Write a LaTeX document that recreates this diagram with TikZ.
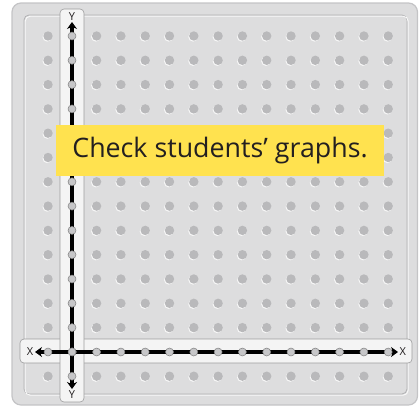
\documentclass[tikz,border=0pt]{standalone}
\usepackage{fontspec}
\setmainfont{Open Sans}
\usetikzlibrary{arrows.meta,positioning}
\definecolor{boardgray}{HTML}{DDDDDE}
\definecolor{rimgray}{HTML}{C4C4C6}
\definecolor{peggray}{HTML}{B9B9BB}
\definecolor{stripwhite}{HTML}{F4F4F4}
\definecolor{axpeggray}{HTML}{C6C6C8}
\definecolor{noteyellow}{HTML}{FFE24F}
\definecolor{notetext}{HTML}{231F20}
\tikzset{
  board/.style  = {draw=rimgray, fill=boardgray, rounded corners=9pt, line width=1.2pt},
  bevd/.style   = {draw=rimgray!90!black, rounded corners=5pt, line width=0.8pt},
  bevl/.style   = {draw=white!85!boardgray, rounded corners=5pt, line width=0.9pt},
  peg/.style    = {fill=peggray, draw=none},
  peghi/.style  = {fill=white!80!boardgray, draw=none},
  strip/.style  = {draw=rimgray!80!black, fill=stripwhite, rounded corners=4pt, line width=0.6pt},
  axis/.style   = {{Stealth[length=7pt,width=10pt]}-{Stealth[length=7pt,width=10pt]}, line width=4pt, draw=black},
  axpeg/.style  = {fill=axpeggray, draw=black!50, line width=0.5pt},
  lab/.style    = {font=\fontsize{11}{11}\selectfont, inner sep=0pt, text=notetext},
  note/.style   = {fill=noteyellow, text=notetext, minimum width=328pt, minimum height=51pt,
                   font=\fontsize{26.8}{30}\selectfont, inner sep=0pt},
}
\begin{document}
\begin{tikzpicture}[x=1pt, y=-1pt]
  \useasboundingbox (0,0) rectangle (419,408);
  % pegboard
  \draw[board] (12,3) rectangle (417.5,405);
  \draw[bevd] (24,15) rectangle (407,394);
  \draw[bevl] (25.2,16.2) rectangle (408.2,395.2);
  \foreach \i in {0,...,14}{
    \foreach \j in {0,...,14}{
      \fill[peghi] (48+24.3*\i-0.8, 36+24.3*\j+0.9) circle (4.7pt);
      \fill[peg] (48+24.3*\i, 36+24.3*\j) circle (4.7pt);
    }
  }
  % axis strips
  \draw[strip] (20,339) rectangle (412,363);
  \draw[strip] (60,9) rectangle (84,402);
  \coordinate (xleft)  at (35,352);
  \coordinate (xright) at (398,352);
  \coordinate (ytop)   at (72,22);
  \coordinate (ybot)   at (72,389);
  \draw[axis] (xleft) -- (xright);
  \draw[axis] (ybot) -- (ytop);
  \foreach \i in {0,...,14}{
    \draw[axpeg] (48+24.3*\i, 352) circle (4pt);
    \draw[axpeg] (72, 36+24.3*\i) circle (4pt);
  }
  \node[lab, left=1.5pt of xleft]  (xl) {X};
  \node[lab, right=1.5pt of xright] (xr) {X};
  \node[lab, above=1.5pt of ytop]  (yt) {Y};
  \node[lab, below=1.5pt of ybot]  (yb) {Y};
  % answer note
  \node[note] (check) at (220,150.5) {Check students’ graphs.};
\end{tikzpicture}
\end{document}
